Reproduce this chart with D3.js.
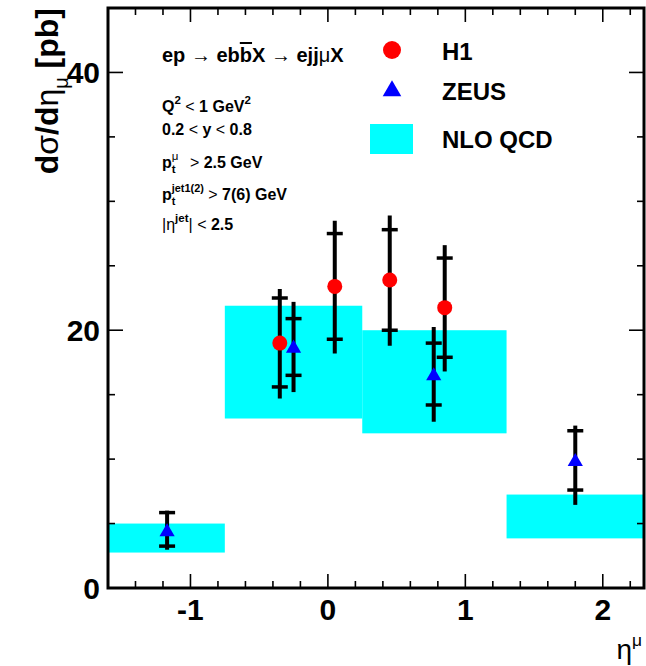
<!DOCTYPE html>
<html>
<head>
<meta charset="utf-8">
<script src="https://cdn.jsdelivr.net/npm/d3@7"></script>
<style>
  html, body { margin: 0; padding: 0; background: #fff; }
  svg { display: block; font-family: "Liberation Sans", Arial, Helvetica, sans-serif; }
</style>
</head>
<body>
<svg id="chart"></svg>
<script>
// NLO QCD bands: bin edges in eta and cross-section range
const nloLo = [-1.6, -0.75, 0.25, 1.3];
const nloHi = [-0.75, 0.25, 1.3, 2.3];
const nloMin = [2.75, 13.15, 12.0, 3.85];
const nloMax = [5.0, 21.9, 20.0, 7.25];

// H1 points
const h1Eta = [-0.35, 0.05, 0.45, 0.85];
const h1Val = [19.0, 23.4, 23.9, 21.75];
const h1StatUp = [22.5, 27.5, 27.8, 25.6];
const h1StatDn = [15.6, 19.3, 20.0, 17.9];
const h1TotUp = [23.2, 28.5, 28.9, 26.6];
const h1TotDn = [14.7, 18.2, 18.8, 16.8];

// ZEUS points
const zeusEta = [-1.17, -0.25, 0.77, 1.8];
const zeusVal = [4.35, 18.6, 16.45, 9.8];
const zeusStatUp = [5.85, 20.9, 19.0, 12.2];
const zeusStatDn = [3.25, 16.5, 14.2, 7.6];
const zeusTotUp = [6.0, 22.2, 20.25, 12.6];
const zeusTotDn = [2.97, 15.2, 12.9, 6.45];

const xTicks = [-1, 0, 1, 2];
const yTicks = [0, 20, 40];

const W = 646, H = 666;
const fLeft = 108, fRight = 644, fTop = 8, fBottom = 588;

const svg = d3.select("#chart").attr("width", W).attr("height", H);

const x = d3.scaleLinear().domain([-1.6, 2.3]).range([fLeft, fRight]);
const y = d3.scaleLinear().domain([0, 45]).range([fBottom, fTop]);

// cyan bands
svg.append("g").selectAll("rect")
    .data(nloLo.map((d, i) => i))
    .enter().append("rect")
    .attr("x", i => x(nloLo[i]))
    .attr("width", i => x(nloHi[i]) - x(nloLo[i]))
    .attr("y", i => y(nloMax[i]))
    .attr("height", i => y(nloMin[i]) - y(nloMax[i]))
    .attr("fill", "#00ffff");

// ticks on all four sides, pointing inward
const tickG = svg.append("g").attr("stroke", "#000").attr("stroke-width", 1.6);
const xMinor = d3.range(-1.4, 2.3, 0.2).map(v => Math.round(v * 10) / 10);
xMinor.forEach(v => {
    const major = xTicks.includes(v);
    const len = major ? 14 : 7;
    tickG.append("line").attr("x1", x(v)).attr("x2", x(v)).attr("y1", fBottom).attr("y2", fBottom - len);
    tickG.append("line").attr("x1", x(v)).attr("x2", x(v)).attr("y1", fTop).attr("y2", fTop + len);
});
d3.range(5, 45, 5).forEach(v => {
    const major = yTicks.includes(v);
    const len = major ? 15 : 7;
    tickG.append("line").attr("x1", fLeft).attr("x2", fLeft + len).attr("y1", y(v)).attr("y2", y(v));
    tickG.append("line").attr("x1", fRight).attr("x2", fRight - len).attr("y1", y(v)).attr("y2", y(v));
});

// frame
svg.append("rect")
    .attr("x", fLeft).attr("y", fTop)
    .attr("width", fRight - fLeft).attr("height", fBottom - fTop)
    .attr("fill", "none").attr("stroke", "#000").attr("stroke-width", 3);

// tick labels
svg.append("g").selectAll("text")
    .data(xTicks).enter().append("text")
    .attr("x", d => x(d)).attr("y", 620)
    .attr("text-anchor", "middle")
    .style("font-size", "30px").style("font-weight", "bold")
    .text(d => d);
svg.append("g").selectAll("text")
    .data(yTicks).enter().append("text")
    .attr("x", 100).attr("y", d => y(d) + 11)
    .attr("text-anchor", "end")
    .style("font-size", "30px").style("font-weight", "bold")
    .text(d => d);

// rich text helper: parts {t, w, ov, dx} or {sub, sup} or {sup} or {sub}
function rich(sel, px, py, parts, fs, anchor, smallK) {
    const t = sel.append("text").attr("x", px).attr("y", py)
        .attr("text-anchor", anchor || "start")
        .style("font-size", fs + "px").style("font-weight", "bold");
    let cur = 0, pendDx = 0;
    const small = fs * (smallK || 0.62), subOff = fs * 0.3, supOff = -fs * 0.48;
    parts.forEach(p => {
        if (p.t !== undefined) {
            const s = t.append("tspan").attr("dy", -cur).text(p.t);
            const dx = pendDx + (p.dx || 0);
            if (dx) s.attr("dx", dx);
            if (p.w) s.style("font-weight", p.w);
            if (p.ov) s.style("text-decoration", "overline");
            cur = 0; pendDx = 0;
        } else {
            let la = 0;
            if (p.sub !== undefined) {
                const a = t.append("tspan").attr("dy", subOff - cur).style("font-size", small + "px").text(p.sub);
                if (p.subw) a.style("font-weight", p.subw);
                cur = subOff;
                la = a.node().getComputedTextLength();
            }
            if (p.sup !== undefined) {
                const b = t.append("tspan").attr("dy", supOff - cur).style("font-size", small + "px").text(p.sup);
                if (p.supw) b.style("font-weight", p.supw);
                if (la) b.attr("dx", -la);
                cur = supOff;
                const lb = b.node().getComputedTextLength();
                if (la > lb) pendDx = la - lb;
            }
        }
    });
    return t;
}

// axis titles
const yt = svg.append("g").attr("transform", "translate(58,8) rotate(-90)");
rich(yt, 0, 0, [
    { t: "d" }, { t: "σ", w: "normal" }, { t: "/d" }, { t: "η", w: "normal" },
    { sub: "μ", subw: "normal" }, { t: " [pb]" }
], 32, "end");

rich(svg, 642, 659, [{ t: "η", w: "normal" }, { sup: "μ", supw: "normal" }], 28, "end");

// annotations
const ann = svg.append("g");
rich(ann, 162, 62, [
    { t: "ep " }, { t: "→", w: "normal" }, { t: " eb" }, { t: "b", ov: true }, { t: "X " },
    { t: "→", w: "normal" }, { t: " ejj" }, { t: "μ", w: "normal" }, { t: "X" }
], 20);
rich(ann, 162, 112, [
    { t: "Q" }, { sup: "2" }, { t: " " }, { t: "<", w: "normal" }, { t: " 1 GeV" }, { sup: "2" }
], 16, "start", 0.72);
rich(ann, 162, 135, [
    { t: "0.2 " }, { t: "<", w: "normal" }, { t: " y " }, { t: "<", w: "normal" }, { t: " 0.8" }
], 16);
rich(ann, 162, 168, [
    { t: "p" }, { sub: "t", sup: "μ", supw: "normal" }, { t: " ", dx: 7 }, { t: ">", w: "normal" }, { t: " 2.5 GeV" }
], 16, "start", 0.72);
rich(ann, 162, 200, [
    { t: "p" }, { sub: "t", sup: "jet1(2)" }, { t: " " }, { t: ">", w: "normal" }, { t: " 7(6) GeV" }
], 16, "start", 0.68);
rich(ann, 162, 230, [
    { t: "|", w: "normal" }, { t: "η", w: "normal" }, { sup: "jet" }, { t: "|", w: "normal" },
    { t: " " }, { t: "<", w: "normal" }, { t: " 2.5" }
], 16, "start", 0.72);

// legend
const leg = svg.append("g");
leg.append("circle").attr("cx", 392).attr("cy", 50).attr("r", 9).attr("fill", "#ff0000");
leg.append("path").attr("d", d3.symbol(d3.symbolTriangle, 150)()).attr("transform", "translate(392,91)").attr("fill", "#0000ff");
leg.append("rect").attr("x", 370).attr("y", 124).attr("width", 43).attr("height", 30).attr("fill", "#00ffff");
[["H1", 60], ["ZEUS", 100], ["NLO QCD", 148]].forEach(([s, yy]) => {
    leg.append("text").attr("x", 442).attr("y", yy)
        .style("font-size", "24px").style("font-weight", "bold").text(s);
});

// error bars
function errorBars(eta, totUp, totDn, statUp, statDn) {
    const g = svg.append("g").attr("stroke", "#000");
    eta.forEach((e, i) => {
        const cx = x(e);
        g.append("line").attr("x1", cx).attr("x2", cx)
            .attr("y1", y(totUp[i])).attr("y2", y(totDn[i])).attr("stroke-width", 4);
        [statUp[i], statDn[i]].forEach(v => {
            g.append("line").attr("x1", cx - 8).attr("x2", cx + 8)
                .attr("y1", y(v)).attr("y2", y(v)).attr("stroke-width", 3.5);
        });
    });
}
errorBars(h1Eta, h1TotUp, h1TotDn, h1StatUp, h1StatDn);
errorBars(zeusEta, zeusTotUp, zeusTotDn, zeusStatUp, zeusStatDn);

// markers
svg.append("g").selectAll("circle")
    .data(h1Eta.map((d, i) => i)).enter().append("circle")
    .attr("cx", i => x(h1Eta[i])).attr("cy", i => y(h1Val[i]))
    .attr("r", 7.5).attr("fill", "#ff0000");
svg.append("g").selectAll("path")
    .data(zeusEta.map((d, i) => i)).enter().append("path")
    .attr("d", d3.symbol(d3.symbolTriangle, 100)())
    .attr("transform", i => `translate(${x(zeusEta[i])},${y(zeusVal[i])})`)
    .attr("fill", "#0000ff");
</script>
</body>
</html>
